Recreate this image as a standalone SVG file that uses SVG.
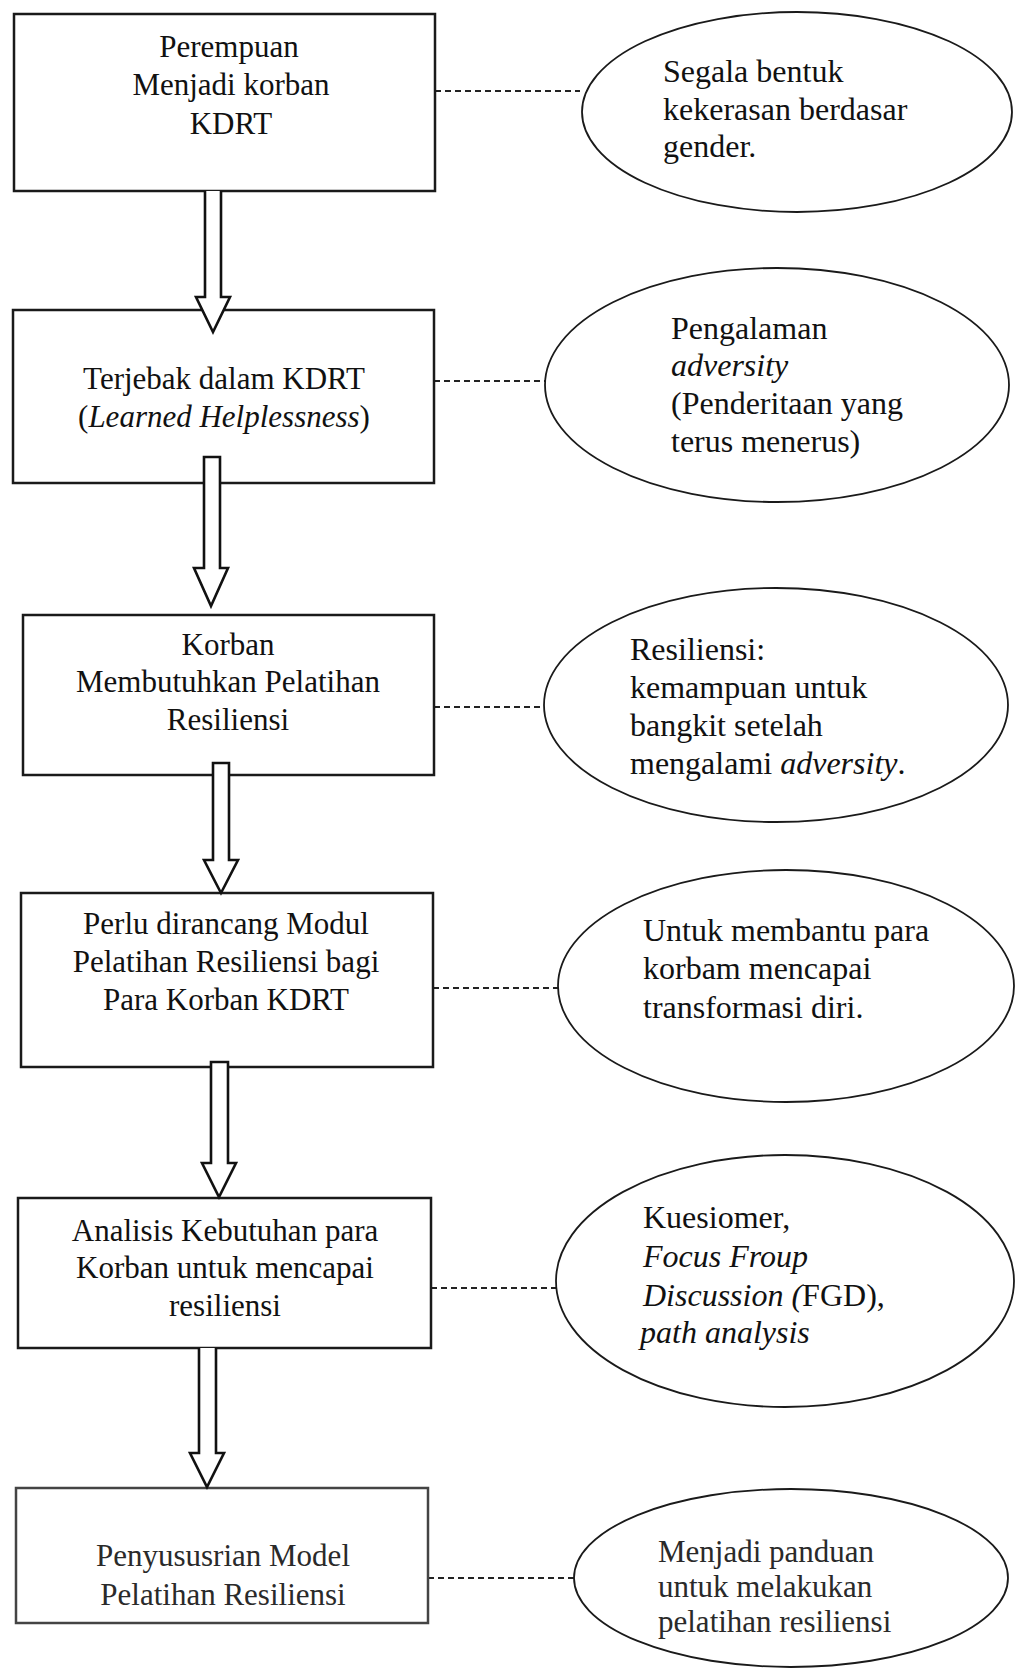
<svg xmlns="http://www.w3.org/2000/svg" width="1017" height="1669" viewBox="0 0 1017 1669">
<style>
.box{fill:#fff;stroke:#1a1a1a;stroke-width:2.5}
.ell{fill:#fff;stroke:#1a1a1a;stroke-width:1.8}
.dash{stroke:#222;stroke-width:2;stroke-dasharray:6 4;fill:none}
.arr{fill:#fff;stroke:#111;stroke-width:2.6;stroke-linejoin:miter}
text{font-family:"Liberation Serif","Times New Roman",serif;fill:#111}
.bt{font-size:31px;text-anchor:middle}
.et{font-size:32px}
.lt{fill:#2a2a2a}
.i{font-style:italic}
</style>
<rect width="1017" height="1669" fill="#fff"/>
<g id="connectors">
<line class="dash" x1="435" y1="91" x2="580" y2="91"/>
<line class="dash" x1="434" y1="381" x2="545" y2="381"/>
<line class="dash" x1="434" y1="707" x2="543" y2="707"/>
<line class="dash" x1="433" y1="988" x2="558" y2="988"/>
<line class="dash" x1="431" y1="1288" x2="556" y2="1288"/>
<line class="dash" x1="428" y1="1578" x2="575" y2="1578"/>
</g>
<g id="node1"><rect class="box" x="14" y="14" width="421" height="177"/>
<text class="bt"><tspan x="229" y="57">Perempuan</tspan><tspan x="231" y="95">Menjadi korban</tspan><tspan x="231" y="134">KDRT</tspan></text></g>
<g id="node2"><rect class="box" x="13" y="310" width="421" height="173"/>
<text class="bt"><tspan x="224" y="389">Terjebak dalam KDRT</tspan><tspan x="224" y="427">(<tspan class="i">Learned Helplessness</tspan>)</tspan></text></g>
<g id="node3"><rect class="box" x="23" y="615" width="411" height="160"/>
<text class="bt"><tspan x="228" y="655">Korban</tspan><tspan x="228" y="692">Membutuhkan Pelatihan</tspan><tspan x="228" y="730">Resiliensi</tspan></text></g>
<g id="node4"><rect class="box" x="21" y="893" width="412" height="174"/>
<text class="bt"><tspan x="226" y="934">Perlu dirancang Modul</tspan><tspan x="226" y="972">Pelatihan Resiliensi bagi</tspan><tspan x="226" y="1010">Para Korban KDRT</tspan></text></g>
<g id="node5"><rect class="box" x="18" y="1198" width="413" height="150"/>
<text class="bt"><tspan x="225" y="1241">Analisis Kebutuhan para</tspan><tspan x="225" y="1278">Korban untuk mencapai</tspan><tspan x="225" y="1316">resiliensi</tspan></text></g>
<g id="node6"><rect class="box" x="16" y="1488" width="412" height="135" style="stroke:#444"/>
<text class="bt lt"><tspan x="223" y="1566">Penyususrian Model</tspan><tspan x="223" y="1605">Pelatihan Resiliensi</tspan></text></g>
<g id="note1"><ellipse class="ell" cx="797" cy="112" rx="215" ry="100"/>
<text class="et"><tspan x="663" y="82">Segala bentuk</tspan><tspan x="663" y="120">kekerasan berdasar</tspan><tspan x="663" y="157">gender.</tspan></text></g>
<g id="note2"><ellipse class="ell" cx="777" cy="385" rx="232" ry="117"/>
<text class="et"><tspan x="671" y="339">Pengalaman</tspan><tspan x="671" y="376" class="i">adversity</tspan><tspan x="671" y="414">(Penderitaan yang</tspan><tspan x="671" y="452">terus menerus)</tspan></text></g>
<g id="note3"><ellipse class="ell" cx="776" cy="705" rx="232" ry="117"/>
<text class="et"><tspan x="630" y="660">Resiliensi:</tspan><tspan x="630" y="698">kemampuan untuk</tspan><tspan x="630" y="736">bangkit setelah</tspan><tspan x="630" y="774">mengalami <tspan class="i">adversity</tspan>.</tspan></text></g>
<g id="note4"><ellipse class="ell" cx="786" cy="986" rx="228" ry="116"/>
<text class="et"><tspan x="643" y="941">Untuk membantu para</tspan><tspan x="643" y="979">korbam mencapai</tspan><tspan x="643" y="1018">transformasi diri.</tspan></text></g>
<g id="note5"><ellipse class="ell" cx="785" cy="1281" rx="229" ry="126"/>
<text class="et"><tspan x="643" y="1228">Kuesiomer,</tspan><tspan x="643" y="1267" class="i">Focus Froup</tspan><tspan x="643" y="1306"><tspan class="i">Discussion (</tspan>FGD),</tspan><tspan x="640" y="1343" class="i">path analysis</tspan></text></g>
<g id="note6"><ellipse class="ell" cx="791" cy="1578" rx="217" ry="89"/>
<text class="et lt" style="font-size:31px"><tspan x="658" y="1562">Menjadi panduan</tspan><tspan x="658" y="1597">untuk melakukan</tspan><tspan x="658" y="1632">pelatihan resiliensi</tspan></text></g>
<g id="arrows">
<path class="arr" d="M205 191 V297 H196 L213 332 L230 297 H221 V191"/>
<path class="arr" d="M204 457 V568 H194 L211 606 L228 568 H220 V457 Z"/>
<path class="arr" d="M213 763 V860 H204 L221 893 L238 860 H229 V763 Z"/>
<path class="arr" d="M211 1062 V1163 H202 L219 1197 L236 1163 H228 V1062 Z"/>
<path class="arr" d="M199 1348 V1453 H190 L207 1487 L224 1453 H216 V1348"/>
</g>
</svg>
